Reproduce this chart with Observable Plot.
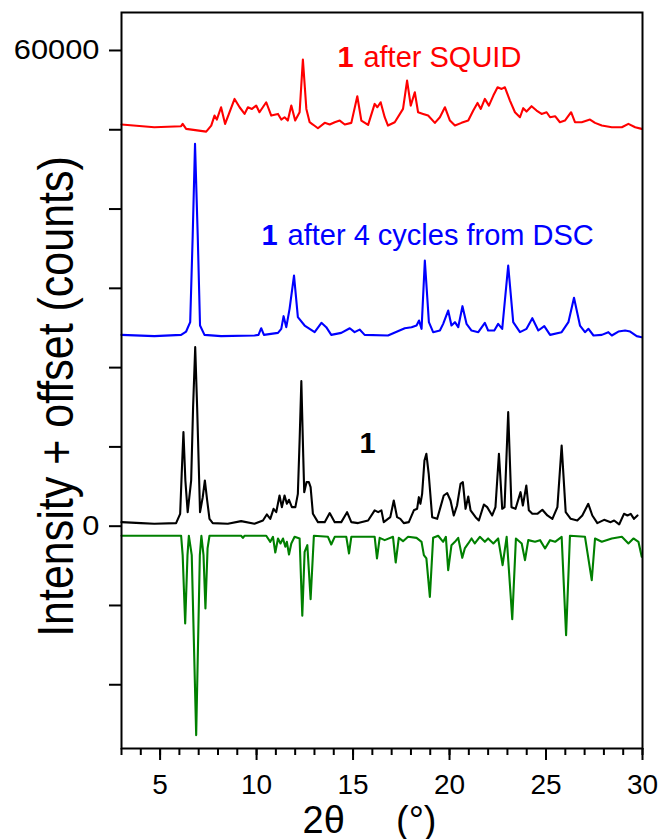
<!DOCTYPE html>
<html><head><meta charset="utf-8">
<script src="https://cdn.jsdelivr.net/npm/d3@7"></script>
<script src="https://cdn.jsdelivr.net/npm/@observablehq/plot@0.6"></script>
<style>body{margin:0;background:#fff} svg{display:block}</style>
</head><body><div id="chart"></div>
<script>
// ---- data ----
const seriesNames = ["1 after SQUID", "1 after 4 cycles from DSC", "1", "simulated"];
const seriesColors = ["#ff0000", "#0000ff", "#000000", "#008000"];

const squidTheta = [3.0,4.70,6.09,6.17,6.35,7.39,7.65,7.82,7.94,8.16,8.37,8.86,9.12,9.38,9.55,9.76,9.98,10.15,10.50,10.76,11.11,11.28,11.45,11.62,11.80,12.00,12.23,12.40,12.58,12.75,12.92,13.18,13.53,13.79,14.05,14.31,14.57,14.91,15.22,15.43,15.78,16.12,16.26,16.43,16.64,16.81,17.16,17.59,17.80,17.99,18.20,18.37,18.63,18.89,19.24,19.50,19.76,20.02,20.28,20.62,20.97,21.23,21.45,21.62,21.83,22.04,22.27,22.49,22.70,22.87,23.13,23.39,23.65,23.82,23.99,24.25,24.51,24.77,25.03,25.21,25.47,25.72,25.98,26.30,26.50,26.85,27.28,27.54,27.89,28.41,28.93,29.27,29.62,29.96];
const squidCounts = [50660,50320,50450,50740,50110,49770,50530,51790,51290,52840,50740,53890,52840,52000,52840,52630,53050,52210,53470,51790,52000,51290,51580,51160,53050,51160,52210,58850,52630,50950,50660,50190,50870,50660,50950,51160,50660,50870,54230,51160,50610,53260,52840,53470,51580,50530,50950,52630,56200,53050,54730,52210,52000,51790,50870,51580,52840,51160,50530,50870,51160,52420,53390,52630,53890,53050,54310,55360,55150,55360,53680,52210,51580,52720,52300,52970,52420,52000,52210,51580,51710,50950,51160,52210,50950,50950,51290,50870,50530,50320,50320,50740,50320,50110];

const dscTheta = [3.0,4.70,6.09,6.35,6.56,6.69,6.81,6.95,7.07,7.30,8.16,9.89,10.10,10.24,10.38,11.11,11.28,11.40,11.54,11.71,11.94,12.14,12.49,13.01,13.36,13.61,13.87,14.39,14.83,15.08,15.34,15.60,16.81,17.68,18.03,18.29,18.42,18.55,18.72,18.93,19.15,19.50,19.67,19.93,20.10,20.28,20.45,20.67,20.88,21.14,21.49,21.83,22.00,22.32,22.52,22.73,23.04,23.30,23.65,23.99,24.29,24.60,24.91,25.21,25.81,26.16,26.45,26.76,27.02,27.20,27.46,27.89,28.23,28.41,28.75,29.10,29.36,29.70,29.96];
const dscCounts = [24130,23970,24130,24550,25730,36660,48220,36660,25310,24130,23970,24050,24130,24970,24130,24380,24890,26490,25100,27410,31610,26360,25310,24470,25650,25100,24130,24380,24970,24470,24800,24130,24050,24970,25100,25310,25940,24890,33510,25730,24470,24680,25520,27200,25310,25730,25100,27750,25520,24680,24470,25650,24680,24680,25520,24890,32880,25730,24470,24890,26230,24680,25230,24130,24470,25730,28800,25310,24470,24890,24050,24130,24470,24050,24550,24680,24550,23970,23840];

const pristineTheta = [3.0,4.01,4.70,5.83,6.04,6.12,6.21,6.31,6.43,6.61,6.71,6.82,6.92,7.07,7.21,7.32,7.44,7.56,7.73,8.51,9.20,9.89,10.33,10.53,10.71,10.88,11.02,11.19,11.31,11.45,11.57,11.68,11.83,12.01,12.14,12.23,12.32,12.42,12.47,12.59,12.71,12.80,12.92,13.18,13.53,13.79,14.05,14.39,14.69,14.91,15.26,15.78,16.12,16.30,16.47,16.59,16.93,17.11,17.28,17.45,17.63,17.89,18.15,18.32,18.41,18.49,18.58,18.70,18.80,18.92,19.10,19.36,19.53,19.70,19.88,20.05,20.22,20.39,20.57,20.69,20.83,20.97,21.09,21.35,21.52,21.78,21.95,22.21,22.38,22.56,22.73,22.85,23.04,23.21,23.42,23.68,23.80,23.98,24.11,24.29,24.55,24.81,25.07,25.33,25.59,25.81,26.02,26.28,26.62,26.88,27.19,27.40,27.66,28.01,28.35,28.53,28.79,29.04,29.22,29.39,29.56,29.74];
const pristineCounts = [510,390,300,390,1560,6600,11860,5760,1770,5770,15010,22580,15010,1770,3660,5770,3240,930,390,300,640,300,720,1480,930,2190,1770,3870,2400,3870,2820,3330,2400,2400,4080,10810,18290,8710,4290,5560,5560,4920,1560,510,510,1650,510,510,1770,510,390,720,2000,1770,2000,510,1140,3240,1140,930,390,510,2000,2190,3660,2820,4080,8290,9130,6610,1140,930,2400,3870,4170,3240,1350,2610,5340,5560,2190,3750,2000,1140,720,2740,2400,1350,2400,9130,2190,2400,14380,2400,2190,4290,2610,5130,2000,1560,1560,2070,1350,930,2400,10180,1770,930,720,1350,2820,1350,390,800,510,720,220,1560,1350,1560,930,1350];

const simTheta = [3.0,6.09,6.17,6.30,6.42,6.49,6.64,6.87,7.06,7.14,7.25,7.35,7.46,7.56,9.20,9.29,9.38,10.50,10.71,10.85,10.97,11.11,11.24,11.37,11.49,11.57,11.68,11.80,11.97,12.23,12.37,12.49,12.63,12.80,12.97,13.70,13.87,14.05,14.65,14.79,14.91,16.12,16.24,16.38,16.64,17.07,17.21,17.37,17.59,17.85,18.29,18.55,18.67,18.80,18.98,19.15,19.41,19.67,19.81,19.93,20.10,20.28,20.45,20.66,20.79,20.97,21.14,21.31,21.57,21.83,22.00,22.27,22.52,22.75,22.96,23.25,23.44,23.74,23.91,24.08,24.43,24.69,24.95,25.21,25.47,25.81,26.04,26.24,27.02,27.37,27.54,27.89,28.41,28.93,29.27,29.53,29.79,29.96];
const simCounts = [-1210,-1210,-3650,-12270,-3650,-1210,-3650,-26350,-3650,-1210,-3650,-10380,-2810,-1210,-1210,-1470,-1210,-1210,-1970,-1340,-3320,-1550,-2180,-1550,-2600,-1970,-3570,-2180,-1340,-1550,-11300,-3230,-2390,-9200,-1210,-1340,-2310,-1340,-1340,-3440,-1340,-1340,-4070,-1470,-1760,-1340,-4580,-1470,-1890,-1340,-1470,-1970,-3650,-4070,-8910,-1470,-1210,-1970,-1340,-5540,-2390,-1970,-1470,-3990,-2810,-2180,-1550,-2180,-1340,-1970,-1550,-2180,-1550,-4910,-1340,-11720,-1550,-2180,-4280,-1760,-1970,-1760,-2810,-1760,-1970,-1340,-13740,-1210,-1340,-6800,-1550,-1970,-1550,-1340,-2180,-1550,-1970,-3860];

const xMajorTicks = [5, 10, 15, 20, 25, 30];
const xMinorTicks = d3.range(3, 31);
const yTicks = [-20000, -10000, 0, 10000, 20000, 30000, 40000, 50000, 60000];
const yLabeledTicks = [0, 60000];

// annotation labels (bold "1" + rest)
const labelTheta = [14.19, 10.26, 15.33];
const labelCounts = [59140, 36690, 10340];
const labelRest = [" after SQUID", " after 4 cycles from DSC", ""];

// ---- build table ----
const thetas = [squidTheta, dscTheta, pristineTheta, simTheta];
const counts = [squidCounts, dscCounts, pristineCounts, simCounts];
const rows = seriesNames.flatMap((name, k) => thetas[k].map((t, i) => ({series: name, theta: t, counts: counts[k][i]})));
const labels = labelTheta.map((t, i) => ({theta: t, counts: labelCounts[i], rest: labelRest[i].trim(), series: seriesNames[i]}));

const font = "'Liberation Sans', Arial, Helvetica, sans-serif";

const chart = Plot.plot({
  width: 661,
  height: 839,
  marginLeft: 121,
  marginRight: 19,
  marginTop: 12,
  marginBottom: 91,
  style: {fontFamily: font, background: "white", color: "black"},
  x: {domain: [3, 30]},
  y: {domain: [-28040, 64790]},
  color: {domain: seriesNames, range: seriesColors},
  marks: [
    Plot.axisX({ticks: xMinorTicks, tickSize: 7, tickFormat: () => "", label: null, strokeWidth: 2}),
    Plot.axisX({ticks: xMajorTicks, tickSize: 12, tickPadding: 14, fontSize: 28, label: null, strokeWidth: 2, tickFormat: d => String(d)}),
    Plot.axisY({ticks: yTicks, tickSize: 12, tickPadding: 10, fontSize: 28, label: null, strokeWidth: 2,
      tickFormat: d => yLabeledTicks.includes(d) ? String(d) : ""}),
    Plot.line(rows, {x: "theta", y: "counts", z: "series", stroke: "series", strokeWidth: 2.1, curve: "linear"}),
    Plot.frame({stroke: "black", strokeWidth: 2}),
    Plot.text(labels, {x: "theta", y: "counts", text: () => "1", fill: "series", fontWeight: "bold", fontSize: 29, textAnchor: "start"}),
    Plot.text(labels, {x: "theta", y: "counts", text: "rest", fill: "series", fontSize: 29, textAnchor: "start", dx: 26}),
    Plot.text(["Intensity + offset (counts)"], {text: d => d, frameAnchor: "left", textAnchor: "middle", lineAnchor: "middle", rotate: -90, dx: -64, dy: 16, fontSize: 43, className: "ylab"}),
    Plot.text(["2θ"], {text: d => d, frameAnchor: "bottom", textAnchor: "start", dx: -79.5, dy: 84, fontSize: 38}),
    Plot.text(["(°)"], {text: d => d, frameAnchor: "bottom", textAnchor: "start", dx: 14, dy: 84, fontSize: 38})
  ]
});

document.getElementById("chart").appendChild(chart);

// the reference's glyphs are slightly wider than the font; stretch a few texts
d3.select(chart).selectAll("g.ylab text").attr("transform", function() { return (this.getAttribute("transform") || "") + " scale(1,1.15)"; });
d3.select(chart).selectAll('g[aria-label="y-axis tick label"] text').attr("transform", function() { return (this.getAttribute("transform") || "") + " scale(1.1,1)"; });
</script>
</body></html>
